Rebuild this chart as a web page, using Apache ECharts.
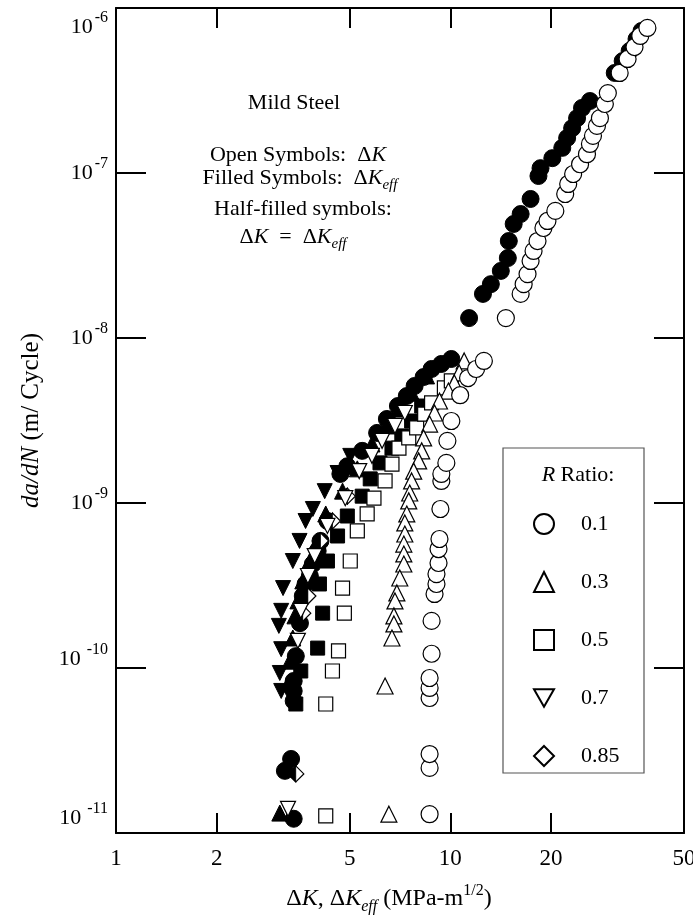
<!DOCTYPE html>
<html><head><meta charset="utf-8">
<script src="https://cdn.jsdelivr.net/npm/echarts@6/dist/echarts.min.js"></script>
<style>html,body{margin:0;padding:0;background:#fff}#c{width:693px;height:922px}</style>
</head><body><div id="c"></div>
<script>
const FONT = '"Liberation Serif", "Times New Roman", serif';
const xTickValues = [2, 5, 10, 20];
const xLabelValues = [1, 2, 5, 10, 20, 50];
const yTickValuesRight = [1e-10, 1e-9, 1e-8, 1e-7];
const legendNames = ['0.1', '0.3', '0.5', '0.7', '0.85'];

// R = 0.1, open circles (ΔK)
const r01Open = [[8.67,1.30e-11],[8.67,2.48e-11],[8.67,3.01e-11],[8.67,6.58e-11],[8.67,7.57e-11],[8.67,8.70e-11],
  [8.79,1.22e-10],[8.79,1.93e-10],[8.97,2.81e-10],[9.09,3.23e-10],[9.09,3.71e-10],[9.22,4.33e-10],[9.22,5.26e-10],
  [9.28,6.05e-10],[9.34,9.20e-10],[9.40,1.36e-9],[9.40,1.50e-9],[9.73,1.75e-9],[9.80,2.38e-9],[10.07,3.14e-9],
  [10.7,4.5e-9],[11.3,5.72e-9],[11.94,6.49e-9],[12.6,7.26e-9],
  [14.66,1.32e-8],[16.23,1.85e-8],[16.57,2.12e-8],[17.02,2.44e-8],[17.38,2.93e-8],[17.74,3.37e-8],[18.23,3.87e-8],
  [18.99,4.64e-8],[19.52,5.12e-8],[20.61,5.89e-8],[22.06,7.46e-8],[22.52,8.58e-8],[23.30,9.86e-8],[24.44,1.13e-7],
  [25.63,1.30e-7],[26.16,1.50e-7],[26.71,1.68e-7],[27.45,1.93e-7],[28.02,2.15e-7],[28.99,2.62e-7],[29.59,3.05e-7],
  [32.1,4.04e-7],[33.9,4.91e-7],[35.56,5.80e-7],[37.0,6.77e-7],[38.86,7.57e-7]];
// R = 0.1, filled circles (ΔKeff)
const r01Filled = [[3.40,1.22e-11],[3.20,2.38e-11],[3.34,2.81e-11],[3.40,6.31e-11],[3.40,7.26e-11],[3.40,8.34e-11],
  [3.45,1.18e-10],[3.55,1.87e-10],[3.62,2.73e-10],[3.69,3.23e-10],[3.80,3.61e-10],[3.88,4.27e-10],[4.01,5.12e-10],
  [4.09,5.89e-10],[4.29,7.78e-10],[4.69,1.50e-9],[4.92,1.67e-9],[5.45,2.07e-9],[6.04,2.66e-9],[6.46,3.23e-9],
  [6.97,3.87e-9],[7.41,4.45e-9],[7.82,5.12e-9],[8.32,5.80e-9],[8.79,6.49e-9],[9.40,6.96e-9],[10.07,7.46e-9],
  [11.38,1.32e-8],[12.52,1.85e-8],[13.22,2.12e-8],[14.16,2.55e-8],[14.86,3.05e-8],[14.96,3.87e-8],[15.47,4.91e-8],
  [16.23,5.64e-8],[17.38,6.96e-8],[18.35,9.59e-8],[18.61,1.07e-7],[20.19,1.23e-7],[21.62,1.42e-7],[22.36,1.63e-7],
  [23.14,1.87e-7],[23.94,2.15e-7],[24.77,2.48e-7],[26.16,2.73e-7],
  [31.03,4.04e-7],[32.77,4.77e-7],[34.38,5.49e-7],[36.06,6.49e-7],[37.31,7.26e-7]];
// R = 0.3, open triangles (ΔK)
const r03Open = [[11.00,7.26e-9],[10.63,6.14e-9],[10.28,5.34e-9],[9.87,4.77e-9],[9.28,4.15e-9],[8.97,3.51e-9],
  [8.67,3.01e-9],[8.32,2.48e-9],[8.21,2.07e-9],[8.04,1.80e-9],[7.77,1.56e-9],[7.66,1.36e-9],[7.56,1.15e-9],
  [7.51,1.03e-9],[7.41,8.58e-10],[7.31,7.57e-10],[7.31,6.49e-10],[7.26,5.64e-10],[7.26,4.91e-10],[7.26,4.27e-10],
  [7.06,3.51e-10],[6.92,2.85e-10],[6.83,2.55e-10],[6.78,2.07e-10],[6.78,1.85e-10],[6.69,1.52e-10],
  [6.38,7.78e-11],[6.55,1.30e-11]];
// R = 0.3, filled triangles (ΔKeff)
const r03Filled = [[3.09,1.32e-11],[3.27,8.00e-11],[3.31,1.10e-10],[3.38,1.52e-10],[3.43,2.07e-10],[3.50,2.55e-10],
  [3.62,3.37e-10],[3.80,4.45e-10],[4.01,5.89e-10],[4.24,8.58e-10],[4.76,1.18e-9],[5.27,1.61e-9],[5.83,2.28e-9],
  [6.46,2.93e-9],[7.06,3.71e-9],[7.66,4.64e-9],[8.49,5.89e-9]];
// R = 0.5, open squares (ΔK)
const r05Open = [[4.24,1.27e-11],[4.24,6.05e-11],[4.44,9.59e-11],[4.63,1.27e-10],[4.82,2.15e-10],[4.76,3.05e-10],
  [5.02,4.45e-10],[5.27,6.77e-10],[5.64,8.58e-10],[5.91,1.07e-9],[6.38,1.36e-9],[6.69,1.72e-9],[7.02,2.15e-9],
  [7.51,2.48e-9],[7.93,2.85e-9],[8.38,3.46e-9],[8.79,4.04e-9],[9.60,4.98e-9],[10.07,5.49e-9]];
// R = 0.5, filled squares (ΔKeff)
const r05Filled = [[3.45,6.05e-11],[3.57,9.59e-11],[4.01,1.32e-10],[4.15,2.15e-10],[4.06,3.23e-10],[4.29,4.45e-10],
  [4.60,6.31e-10],[4.92,8.34e-10],[5.45,1.10e-9],[5.76,1.40e-9],[6.16,1.75e-9],[6.69,2.15e-9],[7.16,2.55e-9],
  [7.66,3.14e-9],[8.21,3.87e-9]];
// R = 0.7, open down-triangles (ΔK)
const r07Open = [[3.27,1.40e-11],[3.50,1.46e-10],[3.57,2.22e-10],[3.75,3.61e-10],[3.93,4.77e-10],[4.29,7.26e-10],
  [4.85,1.07e-9],[5.34,1.56e-9],[5.83,1.93e-9],[6.25,2.38e-9],[6.83,2.93e-9],[7.31,3.51e-9]];
// R = 0.7, filled down-triangles (ΔKeff)
const r07Filled = [[3.12,7.26e-11],[3.09,9.33e-11],[3.12,1.30e-10],[3.07,1.80e-10],[3.12,2.22e-10],[3.16,3.05e-10],
  [3.38,4.45e-10],[3.54,5.89e-10],[3.69,7.78e-10],[3.88,9.20e-10],[4.21,1.18e-9],[4.60,1.52e-9],[5.02,1.93e-9]];
// R = 0.85, half-filled diamonds (ΔK = ΔKeff)
const r085Half = [[3.45,2.28e-11],[3.62,2.15e-10],[3.75,2.73e-10],[4.09,5.89e-10],[4.44,7.78e-10],[4.92,1.10e-9]];

const DOWN_TRI = 'path://M0,0L20,0L10,17.3Z';
const HALF_DIAMOND = 'path://M10,0L0,10L10,20Z';

function sc(name, data, symbol, size, filled, extra) {
  return Object.assign({
    type: 'scatter', name, data, symbol, symbolSize: size, silent: true,
    itemStyle: filled ? {color: '#000', borderColor: '#000', borderWidth: 1, opacity: 1}
                      : {color: '#fff', borderColor: '#000', borderWidth: 1.2, opacity: 1}
  }, extra || {});
}

const chart = echarts.init(document.getElementById('c'), null, {renderer: 'canvas'});
const txt = {fontFamily: FONT, color: '#000'};
chart.setOption({
  animation: false,
  backgroundColor: '#fff',
  grid: {left: 116, right: 9, top: 8, bottom: 89, outerBoundsMode: 'none', containLabel: false},
  xAxis: [{
    type: 'log', min: 1, max: 50, position: 'bottom',
    axisLine: {lineStyle: {color: '#000', width: 2}},
    axisTick: {inside: true, length: 20, customValues: xTickValues, lineStyle: {color: '#000', width: 2}},
    axisLabel: {customValues: xLabelValues, fontSize: 23, fontFamily: FONT, color: '#000', margin: 14},
    splitLine: {show: false},
    name: '{n|Δ}{i|K}{n|, Δ}{i|K}{sub|eff}{n| (MPa-m}{sup|1/2}{n|)}',
    nameLocation: 'middle', nameGap: 50,
    nameTextStyle: {padding: [0, 22, 0, 0], rich: {
      n: Object.assign({fontSize: 24, lineHeight: 32, verticalAlign: 'middle'}, txt),
      i: Object.assign({fontSize: 24, lineHeight: 32, fontStyle: 'italic', verticalAlign: 'middle'}, txt),
      sub: Object.assign({fontSize: 16, fontStyle: 'italic', verticalAlign: 'bottom'}, txt),
      sup: Object.assign({fontSize: 16, verticalAlign: 'top'}, txt)
    }}
  }, {
    type: 'log', min: 1, max: 50, position: 'top',
    axisLine: {lineStyle: {color: '#000', width: 2}},
    axisTick: {inside: true, length: 20, customValues: xTickValues, lineStyle: {color: '#000', width: 2}},
    axisLabel: {show: false}, splitLine: {show: false}
  }],
  yAxis: [{
    type: 'log', min: 1e-11, max: 1e-6, position: 'left',
    axisLine: {lineStyle: {color: '#000', width: 2}},
    axisTick: {inside: true, length: 30, lineStyle: {color: '#000', width: 2}},
    axisLabel: {
      margin: 8, color: '#000',
      formatter: v => {
        const e = Math.round(Math.log10(v));
        if (e === -6) return '{g6| }\n{b|10}{s|' + e + '}';
        if (e === -10) return '{b|10}{s| ' + e + '}\n{g10| }';
        if (e === -11) return '{b|10}{s| ' + e + '}\n{g11| }';
        return '{b|10}{s|' + e + '}';
      },
      rich: {
        b: Object.assign({fontSize: 22, lineHeight: 34, verticalAlign: 'middle'}, txt),
        s: Object.assign({fontSize: 16, verticalAlign: 'top', padding: [0, 0, 0, 2]}, txt),
        g6: {fontSize: 10, lineHeight: 38},
        g10: {fontSize: 10, lineHeight: 18},
        g11: {fontSize: 10, lineHeight: 30}
      }
    },
    splitLine: {show: false},
    name: '{i|da/dN}{n| (m/ Cycle)}',
    nameLocation: 'middle', nameGap: 72, nameRotate: 90,
    nameTextStyle: {rich: {
      i: Object.assign({fontSize: 25, fontStyle: 'italic'}, txt),
      n: Object.assign({fontSize: 25}, txt)
    }}
  }, {
    type: 'log', min: 1e-11, max: 1e-6, position: 'right',
    axisLine: {lineStyle: {color: '#000', width: 2}},
    axisTick: {inside: true, length: 30, customValues: yTickValuesRight, lineStyle: {color: '#000', width: 2}},
    axisLabel: {show: false}, splitLine: {show: false}
  }],
  legend: {
    orient: 'vertical', left: 528, top: 508, itemWidth: 20, itemHeight: 20, itemGap: 36,
    selectedMode: false,
    data: legendNames,
    formatter: n => '{t|' + n + '}',
    textStyle: {rich: {t: Object.assign({fontSize: 22, lineHeight: 20, padding: [0, 0, 0, 22]}, txt)}}
  },
  graphic: [
    {type: 'rect', shape: {x: 503, y: 448, width: 141, height: 325}, style: {fill: 'none', stroke: '#555', lineWidth: 1.2}, z: 1},
    {type: 'text', x: 578, y: 475, z: 10, style: {text: '{i|R}{n| Ratio:}', align: 'center', verticalAlign: 'middle',
      rich: {i: {fontSize: 22, fontStyle: 'italic', fill: '#000', fontFamily: FONT}, n: {fontSize: 22, fontFamily: FONT, fill: '#000'}}}},
    {type: 'text', x: 294, y: 103, z: 10, style: {text: 'Mild Steel', align: 'center', verticalAlign: 'middle', fontSize: 22, fontFamily: FONT, fill: '#000'}},
    {type: 'text', x: 298, y: 155, z: 10, style: {text: '{n|Open Symbols:  Δ}{i|K}', align: 'center', verticalAlign: 'middle',
      rich: {n: {fontSize: 22, fontFamily: FONT, fill: '#000', lineHeight: 30}, i: {fontSize: 22, fontFamily: FONT, fontStyle: 'italic', fill: '#000', lineHeight: 30}}}},
    {type: 'text', x: 300, y: 178, z: 10, style: {text: '{n|Filled Symbols:  Δ}{i|K}{sub|eff}', align: 'center', verticalAlign: 'middle',
      rich: {n: {fontSize: 22, fontFamily: FONT, fill: '#000', lineHeight: 30}, i: {fontSize: 22, fontFamily: FONT, fontStyle: 'italic', fill: '#000', lineHeight: 30},
             sub: {fontSize: 15, fontFamily: FONT, fontStyle: 'italic', fill: '#000', verticalAlign: 'bottom'}}}},
    {type: 'text', x: 303, y: 209, z: 10, style: {text: 'Half-filled symbols:', align: 'center', verticalAlign: 'middle', fontSize: 22, fontFamily: FONT, fill: '#000'}},
    {type: 'text', x: 293, y: 237, z: 10, style: {text: '{n|Δ}{i|K}{n|  =  Δ}{i|K}{sub|eff}', align: 'center', verticalAlign: 'middle',
      rich: {n: {fontSize: 22, fontFamily: FONT, fill: '#000', lineHeight: 30}, i: {fontSize: 22, fontFamily: FONT, fontStyle: 'italic', fill: '#000', lineHeight: 30},
             sub: {fontSize: 15, fontFamily: FONT, fontStyle: 'italic', fill: '#000', verticalAlign: 'bottom'}}}}
  ],
  series: [
    sc('f0.1', r01Filled, 'circle', 17, true),
    sc('f0.3', r03Filled, 'triangle', 16, true),
    sc('f0.5', r05Filled, 'rect', 14, true),
    sc('f0.7', r07Filled, DOWN_TRI, 15, true),
    sc('0.85', r085Half, 'diamond', 16, false),
    sc('h0.85', r085Half, HALF_DIAMOND, [8, 16], true, {symbolOffset: [-4, 0]}),
    sc('0.7', r07Open, DOWN_TRI, 15, false),
    sc('0.5', r05Open, 'rect', 14, false),
    sc('0.3', r03Open, 'triangle', 16, false),
    sc('0.1', r01Open, 'circle', 17, false)
  ]
});
</script>
</body></html>
